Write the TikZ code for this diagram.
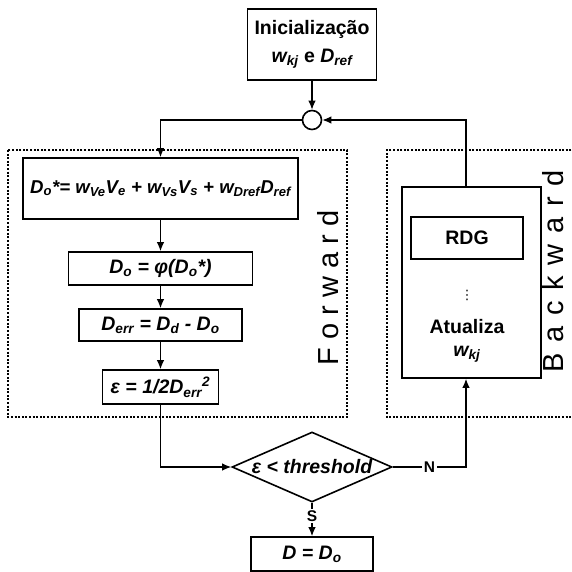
\documentclass[tikz,border=0pt]{standalone}
\usepackage{fontspec}
\setmainfont{Liberation Sans}
\newfontfamily\symfont{DejaVu Sans}
\usetikzlibrary{shapes.geometric,arrows.meta}
\newcommand{\sbs}[1]{\textsubscript{#1}}
\newcommand{\gapb}{\kern10.8pt}

\begin{document}
\begin{tikzpicture}[x=1pt,y=-1pt,->,>={Latex[length=9pt,width=7.5pt]},line width=1.3pt,
  box/.style={draw,-,line width=1.6pt,inner sep=0pt,align=center,
    font=\fontsize{19.5}{23}\selectfont\bfseries},
  region/.style={-,line width=1.3pt,dash pattern=on 2pt off 1.6pt},
  lbl/.style={fill=white,inner sep=1.5pt,font=\fontsize{15.5}{18}\selectfont\bfseries},
  side/.style={rotate=90,inner sep=0pt,font=\fontsize{29}{33}\selectfont}]

\useasboundingbox (0,0) rectangle (571,572);

% regions
\draw[region] (8,150) rectangle (347,417);
\draw[region] (575,150) -- (387,150) -- (387,417) -- (575,417);
\node[side] (fwd) at (328,288) {F o r w a r d};
\node[side] (bwd) at (553,271.5) {B\gapb a\gapb c\gapb k\gapb w\gapb a\gapb r\gapb d};

% forward chain
\node[box,minimum width=129pt,minimum height=71pt,font=\fontsize{19.5}{28}\selectfont\bfseries] (init) at (312,44.5)
  {Inicialização\\\textit{w\sbs{kj}} e \textit{D\sbs{ref}}};
\node[draw,-,circle,minimum size=19pt,inner sep=0pt,line width=1.6pt] (sum) at (312,120) {};
\node[box,minimum width=275pt,minimum height=61pt,font=\fontsize{18.6}{22}\selectfont\bfseries] (dostar) at (160.5,188.5)
  {\textit{D\sbs{o}*= w\sbs{Ve}V\sbs{e} + w\sbs{Vs}V\sbs{s} + w\sbs{Dref}D\sbs{ref}}};
\node[box,minimum width=184pt,minimum height=33pt] (phi) at (160.5,268.5)
  {\textit{D\sbs{o} = φ(D\sbs{o}*)}};
\node[box,minimum width=163pt,minimum height=32pt] (err) at (160.5,325)
  {\textit{D\sbs{err} = D\sbs{d} - D\sbs{o}}};
\node[box,minimum width=116pt,minimum height=34pt] (eps) at (160.5,387)
  {\textit{ε = 1/2D\sbs{err}\textsuperscript{2}}};
\node[box,diamond,minimum width=160pt,minimum height=70pt,
  label={[font=\fontsize{19.5}{23}\selectfont\bfseries\itshape]center:ε < threshold}] (dec) at (312,467) {};
\node[box,minimum width=122pt,minimum height=34pt] (out) at (312,554)
  {\textit{D = D\sbs{o}}};

% backward block
\coordinate (bk) at (466,0);
\node[box,minimum width=139pt,minimum height=191pt] (upd) at (471.5,282.5) {};
\node[box,minimum width=112pt,minimum height=42pt] (rdg) at (467,238) {RDG};
\node[inner sep=0pt,font=\symfont\fontsize{13}{14}\selectfont] (dots) at (467,295) {⋮};
\node[align=center,inner sep=0pt,font=\fontsize{19.5}{23}\selectfont\bfseries] (atl) at (467,341)
  {Atualiza\\\textit{w\sbs{kj}}};

% connectors
\draw (init) -- (sum);
\draw (sum.west) -| (dostar.north);
\draw (upd.north -| bk) |- (sum.east);
\draw (dostar) -- (phi);
\draw (phi) -- (err);
\draw (err) -- (eps);
\draw (eps.south) |- (dec.west);
\draw (dec.east) -- node[lbl]{N} (dec.east -| bk) -- (upd.south -| bk);
\draw (dec.south) -- node[lbl,pos=0.4]{S} (out.north);

\end{tikzpicture}
\end{document}
